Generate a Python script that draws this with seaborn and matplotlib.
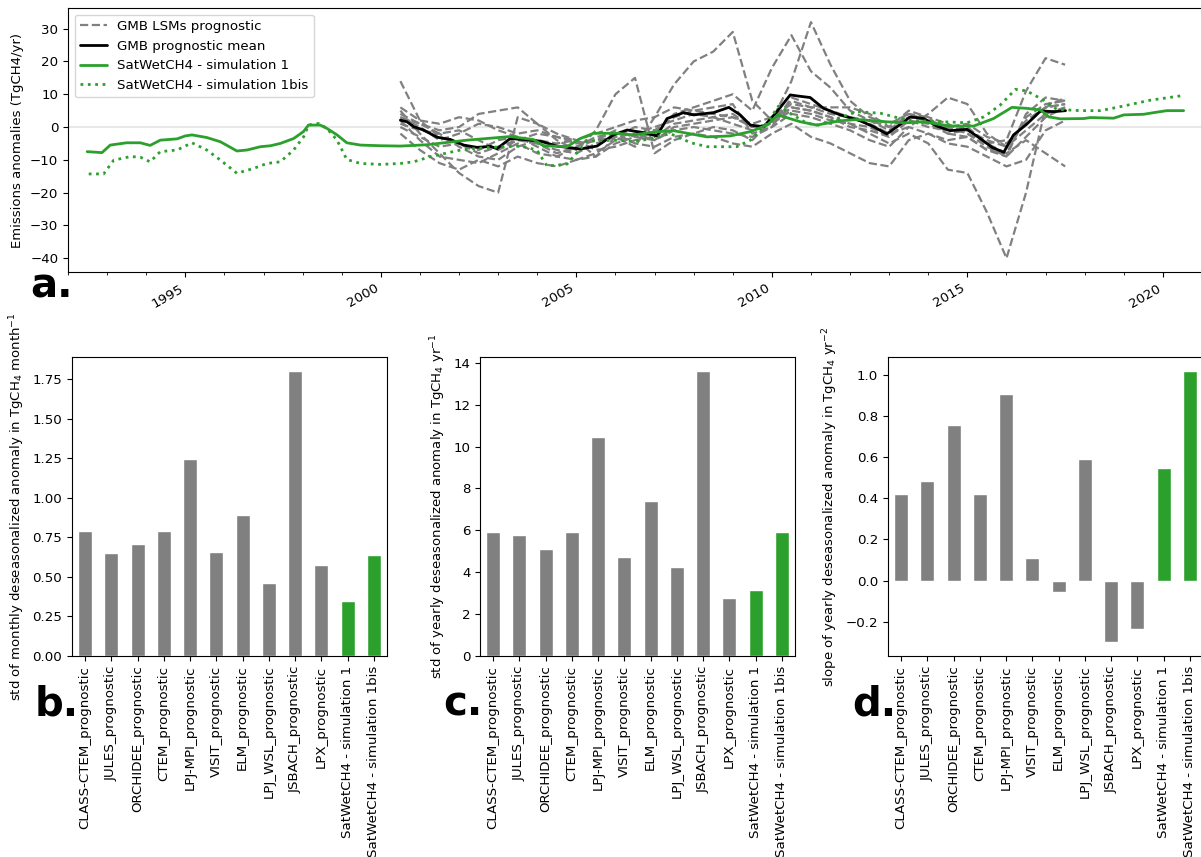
import numpy as np
import pandas as pd
import matplotlib.pyplot as plt
import matplotlib.ticker as mticker
import seaborn as sns

sns.set_style("ticks")
plt.rcParams['font.family'] = ['DejaVu Sans']
plt.rcParams['font.size'] = 9.6
plt.rcParams['axes.edgecolor'] = 'black'
plt.rcParams['axes.labelcolor'] = 'black'
plt.rcParams['text.color'] = 'black'
plt.rcParams['xtick.color'] = 'black'
plt.rcParams['ytick.color'] = 'black'
plt.rcParams['xtick.labelsize'] = 9.6
plt.rcParams['ytick.labelsize'] = 9.6

GREY = '#808080'
GREEN = '#2ca02c'

# ---- panel a: time series (decimal years) ----
sim1_years = [1992.49, 1992.87, 1993.08, 1993.5, 1993.85, 1994.1, 1994.36, 1994.79, 1995.0, 1995.17,
              1995.55, 1995.9, 1996.32, 1996.58, 1996.92, 1997.18, 1997.43, 1997.77, 1998.02, 1998.15,
              1998.45, 1998.62, 1998.88, 1999.13, 1999.48, 2000.0, 2000.5, 2001.18, 2002.2, 2003.31,
              2003.9, 2004.16, 2004.76, 2005.1, 2005.44, 2006.04, 2006.47, 2007.0, 2007.48, 2008.34,
              2008.94, 2009.45, 2009.88, 2010.15, 2010.73, 2011.15, 2011.75, 2012.18, 2012.94, 2013.45,
              2013.88, 2014.56, 2015.16, 2015.67, 2016.14, 2016.52, 2016.87, 2017.08, 2017.38, 2017.98,
              2018.15, 2018.74, 2019.0, 2019.51, 2019.77, 2020.1, 2020.53]
sim1_vals = [-7.5, -7.8, -5.5, -4.8, -4.8, -5.6, -4.0, -3.6, -2.7, -2.4,
             -3.2, -4.5, -7.3, -7.0, -6.0, -5.7, -5.0, -3.5, -1.4, 0.6,
             0.6, -0.4, -2.4, -4.8, -5.5, -5.7, -5.8, -5.4, -4.0, -2.9,
             -3.8, -5.7, -6.0, -3.5, -1.9, -1.9, -2.4, -1.5, -1.1, -3.0,
             -2.7, -1.4, 0.6, 3.7, 1.6, 0.6, 1.9, 2.3, 1.6, 1.3,
             1.6, 0.3, 0.3, 2.6, 6.0, 5.7, 5.2, 3.1, 2.5, 2.6,
             2.9, 2.7, 3.7, 3.9, 4.4, 5.0, 5.0]

sim1bis_years = [1992.53, 1992.91, 1993.17, 1993.6, 1993.85, 1994.1, 1994.36, 1994.79, 1995.17, 1995.55,
                 1995.9, 1996.32, 1996.75, 1997.09, 1997.43, 1997.77, 1998.03, 1998.15, 1998.41, 1998.62,
                 1998.88, 1999.13, 1999.48, 2000.0, 2000.5, 2000.84, 2001.27, 2002.12, 2002.8, 2003.57,
                 2003.99, 2004.25, 2004.76, 2005.02, 2005.27, 2005.95, 2006.47, 2006.8, 2007.4, 2007.93,
                 2008.35, 2009.1, 2009.45, 2009.87, 2010.17, 2010.47, 2010.9, 2011.2, 2012.18, 2012.78,
                 2013.45, 2014.39, 2014.99, 2015.42, 2015.84, 2016.23, 2016.52, 2016.95, 2017.29, 2017.89,
                 2018.4, 2018.83, 2019.68, 2020.1, 2020.45]
sim1bis_vals = [-14.3, -14.3, -10.1, -9.0, -9.2, -10.6, -7.5, -7.0, -4.8, -7.0,
                -10.1, -14.1, -12.6, -11.1, -10.6, -7.0, -2.9, 0.6, 1.1, -0.4,
                -4.0, -9.9, -11.1, -11.4, -11.1, -10.6, -9.0, -6.8, -6.2, -5.8,
                -7.0, -11.9, -11.3, -7.8, -4.3, -4.0, -4.4, -3.8, -2.0, -4.8,
                -6.0, -6.0, -4.0, 1.1, 6.4, 4.2, 1.1, 0.6, 4.7, 4.2,
                2.1, 1.6, 1.3, 3.1, 6.7, 11.5, 11.0, 8.2, 5.4, 5.0,
                5.0, 6.0, 8.2, 8.9, 9.5]

mean_years = [2000.5, 2000.67, 2000.84, 2001.09, 2001.44, 2001.78, 2002.12, 2002.46, 2002.8, 2002.97,
              2003.31, 2003.65, 2004.08, 2004.5, 2005.1, 2005.53, 2005.95, 2006.3, 2006.72, 2007.06,
              2007.32, 2007.74, 2008.0, 2008.51, 2008.9, 2009.19, 2009.45, 2009.79, 2010.13, 2010.47,
              2010.64, 2010.98, 2011.32, 2011.75, 2012.26, 2012.6, 2012.94, 2013.2, 2013.54, 2013.88,
              2014.22, 2014.56, 2014.99, 2015.33, 2015.63, 2015.93, 2016.18, 2016.52, 2016.87, 2017.21,
              2017.51]
mean_vals = [2.1, 1.6, 0.1, -0.9, -3.1, -3.8, -5.5, -6.2, -5.9, -6.6,
             -3.5, -3.8, -4.3, -5.8, -6.7, -5.8, -2.4, -0.9, -1.7, -2.7,
             2.6, 4.4, 3.7, 4.4, 6.0, 3.7, 0.6, 0.1, 4.7, 9.8,
             9.5, 9.0, 5.7, 3.7, 1.9, 0.1, -2.1, 0.1, 3.1, 2.6,
             0.3, -1.1, -0.7, -3.5, -6.2, -7.7, -2.4, 0.9, 4.9, 4.7,
             5.0]

# individual LSMs, half-yearly from 2000.5 to 2017.5
lsm_years = [2000.5 + 0.5 * i for i in range(35)]
lsm_1 = [14, 2, -3, -5, -8, -6, -4, -5, -7, -8, -5, -3, -6, 3, 13, 20, 23, 29, 8, 2,
         6, 5, 3, 1, 0, -3, 2, 1, -2, -1, -4, -6, 2, 6, 7]
lsm_2 = [5, -2, -8, -14, -18, -20, 3, 1, -4, -7, -1, 10, 15, -8, -4, -2, 0, -1, -4, 2,
         8, 6, 4, 3, 2, 0, 3, 2, 0, 1, -3, -5, 1, 6, 7]
lsm_3 = [6, 2, 1, 3, 2, -1, -3, -5, -8, -6, -4, -3, -2, 0, 2, 4, 3, 1, -1, 2,
         14, 32, 19, 8, 3, 1, 4, 2, 0, -2, -6, -9, -3, 3, 6]
lsm_4 = [3, 0, -4, -2, 1, 0, -2, -1, -3, -5, -4, -1, -3, -2, 4, 6, 8, 10, 5, 18,
         28, 17, 12, 5, 2, -1, 4, 3, -2, -3, -7, -9, 4, 9, 8]
lsm_5 = [0, -3, -6, -5, -7, -4, -3, -6, -9, -10, -8, -4, -2, -4, 0, 1, 2, 3, 0, 1,
         5, 4, 2, 1, -2, -5, -2, -5, -13, -14, -26, -40, -20, 6, 9]
lsm_6 = [1, -1, -2, -6, -9, -10, -6, -4, -5, -4, -7, -6, -4, -3, 1, 2, 3, 4, 0, 1,
         6, 5, 3, 0, -1, -3, 2, 0, -1, 0, -5, -4, 11, 21, 19]
lsm_7 = [2, -4, -9, -10, -11, -8, -5, -8, -9, -6, -3, -2, -5, -6, -3, -2, -3, -5, -6, -2,
         1, -3, -5, -8, -11, -12, -4, -2, -4, -3, -7, -8, -4, -8, -12]
lsm_8 = [4, 1, -2, -1, -4, -7, -4, -2, -3, -4, -9, -3, 0, -1, 3, 5, 6, 7, -2, 0,
         9, 7, 5, 3, 1, -2, 0, 4, 9, 7, -2, -6, -1, 4, 6]
lsm_9 = [3, 1, -1, 0, 4, 5, 6, 1, -2, -4, -2, 0, 2, 3, 6, 5, 4, 3, 1, 3,
         7, 6, 6, 6, 4, 0, 5, 3, 1, -2, -5, -8, 3, 7, 8]
lsm_10 = [-2, -7, -11, -13, -10, -12, -9, -11, -12, -10, -9, -5, -3, -4, -1, 0, -1, -2, -3, 0,
          4, 3, 1, -1, -4, -6, 0, -2, -5, -6, -9, -12, -10, -1, 2]
lsm_series = [lsm_1, lsm_2, lsm_3, lsm_4, lsm_5, lsm_6, lsm_7, lsm_8, lsm_9, lsm_10]

# ---- panels b, c, d ----
models = ['CLASS-CTEM_prognostic', 'JULES_prognostic', 'ORCHIDEE_prognostic', 'CTEM_prognostic',
          'LPJ-MPI_prognostic', 'VISIT_prognostic', 'ELM_prognostic', 'LPJ_WSL_prognostic',
          'JSBACH_prognostic', 'LPX_prognostic', 'SatWetCH4 - simulation 1',
          'SatWetCH4 - simulation 1bis']
std_monthly = [0.79, 0.65, 0.705, 0.79, 1.245, 0.66, 0.89, 0.46, 1.80, 0.575, 0.345, 0.64]
std_yearly = [5.9, 5.8, 5.1, 5.9, 10.45, 4.75, 7.4, 4.25, 13.6, 2.75, 3.15, 5.9]
slope_yearly = [0.42, 0.485, 0.755, 0.42, 0.905, 0.11, -0.055, 0.59, -0.30, -0.235, 0.545, 1.02]
bar_colors = [GREY] * 10 + [GREEN] * 2

W, H = 1201, 857
fig = plt.figure(figsize=(W / 100, H / 100), dpi=100)

# top panel
ax = fig.add_axes([68 / W, 1 - 272 / H, 1134 / W, 264 / H])
ax.axhline(0, color='#e8e8e8', lw=1.5, zorder=0)
for i, s in enumerate(lsm_series):
    sns.lineplot(x=lsm_years, y=s, color=GREY, linestyle='--', lw=1.6, ax=ax,
                 label='GMB LSMs prognostic' if i == 0 else None)
sns.lineplot(x=mean_years, y=mean_vals, color='black', lw=2, ax=ax, label='GMB prognostic mean')
sns.lineplot(x=sim1_years, y=sim1_vals, color=GREEN, lw=2, ax=ax, label='SatWetCH4 - simulation 1')
sns.lineplot(x=sim1bis_years, y=sim1bis_vals, color=GREEN, lw=2, linestyle=':', ax=ax,
             label='SatWetCH4 - simulation 1bis')
ax.set_xlim(1992.0, 2021.0)
ax.set_ylim(-44.2, 36.3)
ax.xaxis.set_major_locator(mticker.MultipleLocator(5))
ax.xaxis.set_minor_locator(mticker.MultipleLocator(1))
ax.xaxis.set_major_formatter(mticker.FormatStrFormatter('%d'))
ax.yaxis.set_major_locator(mticker.MultipleLocator(10))
for lab in ax.get_xticklabels():
    lab.set_rotation(30)
    lab.set_ha('right')
ax.set_ylabel('Emissions anomalies (TgCH4/yr)', fontsize=9.5)
ax.legend(loc='upper left', fontsize=9.6)

# bottom panels
ylabels = ['std of monthly deseasonalized anomaly in TgCH$_4$ month$^{-1}$',
           'std of yearly deseasonalized anomaly in TgCH$_4$ yr$^{-1}$',
           'slope of yearly deseasonalized anomaly in TgCH$_4$ yr$^{-2}$']
lefts = [72, 480, 888]
for vals, left, ylab in zip([std_monthly, std_yearly, slope_yearly], lefts, ylabels):
    bx = fig.add_axes([left / W, 1 - 656 / H, 315 / W, 299 / H])
    sns.barplot(x=models, y=vals, hue=models, palette=bar_colors, width=0.53,
                saturation=1, legend=False, ax=bx)
    bx.set_xlim(-0.5, 11.5)
    lo, hi = min(0, min(vals)), max(vals)
    pad = 0.05 * (hi - lo)
    bx.set_ylim(lo - pad if lo < 0 else 0, hi + pad)
    bx.tick_params(axis='x', rotation=90)
    bx.set_xlabel('')
    bx.set_ylabel(ylab, fontsize=9.5)

for txt, x, y in [('a.', 30, 297), ('b.', 35, 715), ('c.', 443, 715), ('d.', 852, 715)]:
    fig.text(x / W, 1 - y / H, txt, fontsize=29, fontweight='bold', ha='left', va='baseline')

fig.savefig('out.png', dpi=100)
